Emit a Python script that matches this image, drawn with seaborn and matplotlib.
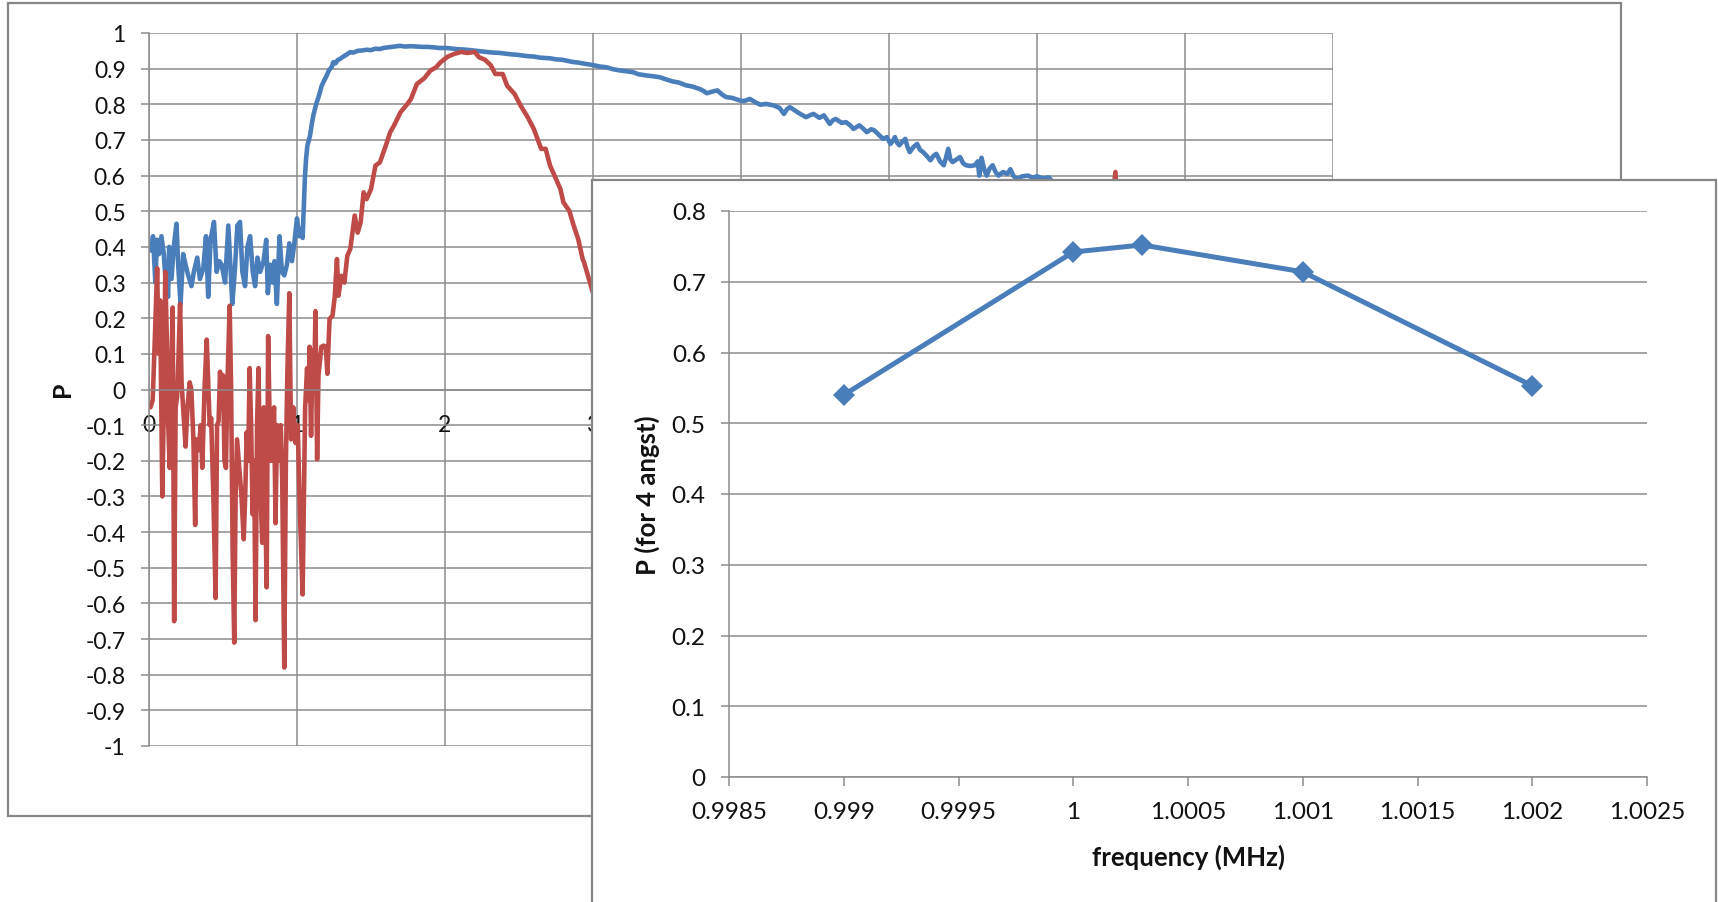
import matplotlib
matplotlib.use("Agg")
import matplotlib.pyplot as plt
import seaborn as sns
from matplotlib.patches import Rectangle
from matplotlib.ticker import FixedLocator, FuncFormatter

# ---------------------------------------------------------------- data
# Polarisation P versus wavelength-like scan (background chart)
blue_x = [
    0.016, 0.027, 0.043, 0.054, 0.068, 0.084, 0.100, 0.113, 0.129, 0.136,
    0.152, 0.167, 0.186, 0.197, 0.213, 0.231, 0.247, 0.265, 0.287, 0.303,
    0.326, 0.344, 0.367, 0.385, 0.400, 0.416, 0.439, 0.457, 0.475, 0.491,
    0.514, 0.536, 0.548, 0.563, 0.581, 0.597, 0.615, 0.631, 0.649, 0.665,
    0.683, 0.701, 0.717, 0.733, 0.751, 0.774, 0.792, 0.803, 0.819, 0.835,
    0.848, 0.864, 0.882, 0.898, 0.914, 0.932, 0.948, 0.966, 0.982, 1.000,
    1.015, 1.025, 1.038, 1.054, 1.062, 1.070, 1.080, 1.088, 1.100, 1.110,
    1.120, 1.133, 1.145, 1.155, 1.165, 1.178, 1.190, 1.200, 1.212, 1.223,
    1.235, 1.245, 1.260, 1.275, 1.290, 1.310, 1.330, 1.358, 1.380, 1.410,
    1.440, 1.470, 1.500, 1.530, 1.560, 1.583, 1.620, 1.660, 1.696, 1.730,
    1.770, 1.808, 1.850, 1.880, 1.920, 1.960, 2.000, 2.034, 2.070, 2.110,
    2.147, 2.190, 2.230, 2.260, 2.300, 2.330, 2.370, 2.410, 2.450, 2.486,
    2.520, 2.560, 2.600, 2.640, 2.680, 2.710, 2.750, 2.790, 2.826, 2.860,
    2.900, 2.940, 3.000, 3.045, 3.090, 3.130, 3.180, 3.220, 3.270, 3.310,
    3.360, 3.400, 3.450, 3.500, 3.540, 3.580, 3.630, 3.670, 3.720, 3.745,
    3.770, 3.800, 3.840, 3.870, 3.900, 3.940, 3.990, 4.020, 4.060, 4.100,
    4.130, 4.170, 4.220, 4.260, 4.290, 4.310, 4.330, 4.370, 4.400, 4.440,
    4.470, 4.490, 4.530, 4.560, 4.580, 4.600, 4.620, 4.640, 4.680, 4.710,
    4.740, 4.760, 4.800, 4.830, 4.850, 4.880, 4.900, 4.930, 4.960, 4.985,
    5.010, 5.030, 5.040, 5.055, 5.070, 5.090, 5.110, 5.125, 5.140, 5.165,
    5.190, 5.210, 5.230, 5.255, 5.280, 5.300, 5.320, 5.345, 5.370, 5.385,
    5.400, 5.415, 5.430, 5.455, 5.480, 5.500, 5.520, 5.550, 5.580, 5.600,
    5.610, 5.625, 5.645, 5.660, 5.680, 5.700, 5.720, 5.740, 5.770, 5.800,
    5.820, 5.840, 5.860, 5.900, 5.940, 5.970, 6.000, 6.040, 6.080, 6.120,
    6.300, 6.700, 7.100, 7.500, 8.000,
]
blue_y = [
    0.390, 0.430, 0.300, 0.420, 0.380, 0.430, 0.380, 0.300, 0.260, 0.400,
    0.310, 0.400, 0.465, 0.350, 0.240, 0.380, 0.350, 0.320, 0.290, 0.330,
    0.370, 0.310, 0.340, 0.430, 0.260, 0.420, 0.470, 0.330, 0.360, 0.350,
    0.300, 0.460, 0.360, 0.240, 0.340, 0.460, 0.470, 0.330, 0.290, 0.400,
    0.430, 0.330, 0.290, 0.370, 0.330, 0.360, 0.420, 0.270, 0.350, 0.300,
    0.360, 0.240, 0.430, 0.330, 0.320, 0.350, 0.410, 0.360, 0.410, 0.480,
    0.430, 0.450, 0.425, 0.600, 0.650, 0.684, 0.700, 0.712, 0.745, 0.768,
    0.785, 0.805, 0.820, 0.834, 0.850, 0.862, 0.872, 0.880, 0.892, 0.899,
    0.905, 0.918, 0.915, 0.924, 0.927, 0.933, 0.938, 0.946, 0.945, 0.950,
    0.951, 0.953, 0.952, 0.956, 0.955, 0.958, 0.960, 0.962, 0.964, 0.962,
    0.963, 0.962, 0.961, 0.961, 0.960, 0.958, 0.958, 0.957, 0.955, 0.954,
    0.953, 0.951, 0.949, 0.948, 0.946, 0.945, 0.944, 0.942, 0.940, 0.939,
    0.937, 0.935, 0.934, 0.931, 0.930, 0.929, 0.926, 0.925, 0.922, 0.919,
    0.917, 0.914, 0.910, 0.906, 0.904, 0.899, 0.895, 0.893, 0.890, 0.884,
    0.881, 0.879, 0.876, 0.869, 0.864, 0.861, 0.853, 0.850, 0.843, 0.838,
    0.831, 0.835, 0.839, 0.828, 0.820, 0.818, 0.811, 0.809, 0.815, 0.805,
    0.799, 0.801, 0.797, 0.790, 0.773, 0.786, 0.792, 0.781, 0.773, 0.764,
    0.770, 0.773, 0.762, 0.769, 0.757, 0.745, 0.755, 0.759, 0.748, 0.750,
    0.740, 0.731, 0.741, 0.730, 0.722, 0.730, 0.727, 0.715, 0.703, 0.708,
    0.689, 0.700, 0.708, 0.692, 0.685, 0.695, 0.703, 0.680, 0.666, 0.680,
    0.689, 0.672, 0.666, 0.655, 0.643, 0.655, 0.661, 0.640, 0.629, 0.650,
    0.675, 0.645, 0.638, 0.645, 0.652, 0.635, 0.629, 0.627, 0.629, 0.640,
    0.600, 0.650, 0.615, 0.600, 0.620, 0.629, 0.610, 0.600, 0.610, 0.605,
    0.618, 0.600, 0.590, 0.598, 0.600, 0.594, 0.598, 0.592, 0.595, 0.575,
    0.560, 0.510, 0.460, 0.410, 0.340,
]

red_x = [
    0.010, 0.025, 0.040, 0.055, 0.065, 0.075, 0.090, 0.100, 0.110, 0.120,
    0.130, 0.140, 0.150, 0.160, 0.170, 0.180, 0.190, 0.200, 0.210, 0.220,
    0.235, 0.247, 0.260, 0.275, 0.286, 0.300, 0.312, 0.320, 0.335, 0.350,
    0.360, 0.375, 0.390, 0.400, 0.410, 0.420, 0.435, 0.450, 0.460, 0.470,
    0.480, 0.490, 0.500, 0.510, 0.520, 0.530, 0.545, 0.555, 0.565, 0.576,
    0.585, 0.595, 0.610, 0.625, 0.640, 0.650, 0.660, 0.670, 0.680, 0.690,
    0.700, 0.710, 0.720, 0.730, 0.740, 0.750, 0.765, 0.775, 0.785, 0.795,
    0.805, 0.815, 0.825, 0.835, 0.845, 0.855, 0.865, 0.875, 0.890, 0.900,
    0.914, 0.925, 0.935, 0.948, 0.960, 0.975, 0.990, 1.005, 1.020, 1.038,
    1.055, 1.068, 1.078, 1.085, 1.095, 1.105, 1.115, 1.125, 1.136, 1.145,
    1.155, 1.165, 1.180, 1.195, 1.205, 1.220, 1.240, 1.255, 1.270, 1.280,
    1.300, 1.320, 1.340, 1.360, 1.390, 1.410, 1.430, 1.450, 1.470, 1.500,
    1.530, 1.560, 1.600, 1.630, 1.655, 1.700, 1.746, 1.770, 1.810, 1.860,
    1.900, 1.940, 1.970, 2.020, 2.060, 2.110, 2.150, 2.200, 2.230, 2.270,
    2.310, 2.340, 2.390, 2.420, 2.470, 2.510, 2.560, 2.600, 2.650, 2.680,
    2.710, 2.750, 2.780, 2.800, 2.840, 2.870, 2.900, 2.930, 2.940, 3.050,
    3.200, 3.500, 4.000, 4.800, 5.600, 6.300, 6.450, 6.530, 6.570, 6.800,
    7.400, 8.000,
]
red_y = [
    -0.050, -0.030, 0.150, 0.340, 0.100, 0.250, -0.300, -0.050, 0.330, 0.150,
    -0.100, -0.220, 0.050, 0.230, -0.650, -0.050, -0.020, 0.100, 0.240, 0.020,
    -0.080, -0.160, -0.050, 0.020, 0.000, -0.140, -0.380, -0.140, -0.170, -0.100,
    -0.220, 0.000, 0.140, 0.020, -0.100, -0.080, -0.300, -0.585, -0.100, -0.090,
    0.050, -0.050, 0.040, -0.200, -0.220, 0.020, 0.235, 0.000, -0.450, -0.710,
    -0.300, -0.140, -0.220, -0.300, -0.420, -0.300, -0.120, -0.200, 0.060, -0.100,
    -0.350, -0.200, -0.647, -0.100, 0.060, -0.250, -0.430, -0.050, -0.300, -0.555,
    0.150, -0.080, -0.200, -0.100, -0.050, -0.375, -0.100, -0.200, -0.100, -0.250,
    -0.780, -0.200, 0.050, 0.270, -0.140, -0.050, -0.150, -0.100, -0.350, -0.575,
    -0.050, 0.060, -0.030, 0.120, -0.130, 0.110, 0.000, 0.220, -0.196, 0.040,
    0.080, 0.120, 0.123, 0.120, 0.044, 0.198, 0.207, 0.260, 0.366, 0.263,
    0.319, 0.300, 0.375, 0.394, 0.488, 0.440, 0.469, 0.553, 0.534, 0.562,
    0.628, 0.637, 0.684, 0.722, 0.740, 0.778, 0.801, 0.815, 0.857, 0.873,
    0.894, 0.904, 0.918, 0.934, 0.941, 0.947, 0.944, 0.947, 0.932, 0.925,
    0.909, 0.885, 0.885, 0.852, 0.829, 0.797, 0.763, 0.731, 0.675, 0.675,
    0.628, 0.590, 0.562, 0.525, 0.501, 0.459, 0.422, 0.366, 0.356, 0.200,
    0.020, -0.250, -0.450, -0.400, -0.150, 0.150, 0.300, 0.610, 0.250, 0.050,
    -0.200, -0.300,
]

# P at 4 angstrom versus RF frequency (foreground chart)
freq_mhz = [0.999, 1.0, 1.0003, 1.001, 1.002]
p_4ang = [0.540, 0.742, 0.752, 0.714, 0.553]

back_xticks = [0, 1, 2, 3, 4, 5, 6, 7, 8]
back_yticks = [-1.0, -0.9, -0.8, -0.7, -0.6, -0.5, -0.4, -0.3, -0.2, -0.1,
               0.0, 0.1, 0.2, 0.3, 0.4, 0.5, 0.6, 0.7, 0.8, 0.9, 1.0]
front_xticks = [0.9985, 0.999, 0.9995, 1.0, 1.0005, 1.001, 1.0015, 1.002, 1.0025]
front_xlabels = ["0.9985", "0.999", "0.9995", "1", "1.0005", "1.001",
                 "1.0015", "1.002", "1.0025"]
front_yticks = [0.0, 0.1, 0.2, 0.3, 0.4, 0.5, 0.6, 0.7, 0.8]

# ---------------------------------------------------------------- style
sns.set_theme(style="white")
plt.rcParams["font.family"] = ["Lato", "DejaVu Sans"]

GRID = "#8c8c8c"
FRAME = "#868686"
BLUE = "#4A7EBB"
RED = "#BE4B48"
TXT = "#111111"

W, H = 1718, 903
fig = plt.figure(figsize=(W / 100, H / 100), dpi=100)
fig.patch.set_facecolor("white")


def px_box(x0, y0, x1, y1):
    """Pixel box (top-left origin) -> figure fraction rect."""
    return [x0 / W, 1 - y1 / H, (x1 - x0) / W, (y1 - y0) / H]


def num_label(v, _pos):
    v = round(v, 4)
    if v == 0:
        return "0"
    return f"{v:g}"


# ---------------------------------------------------------------- background chart
back_frame = Rectangle((8 / W, 1 - 817 / H), (1621 - 8) / W, (817 - 4) / H,
                       transform=fig.transFigure, facecolor="none",
                       edgecolor=FRAME, lw=1.6, zorder=0.5)
fig.add_artist(back_frame)

ax1 = fig.add_axes(px_box(149, 34, 1333, 747))
ax1.set_zorder(1)
ax1.set_facecolor("white")

line_kw = dict(estimator=None, sort=False)
sns.lineplot(x=blue_x, y=blue_y, ax=ax1, color=BLUE, **line_kw)
sns.lineplot(x=red_x, y=red_y, ax=ax1, color=RED, **line_kw)
for ln in ax1.get_lines():
    ln.set_linewidth(3.3)
    ln.set_solid_joinstyle("round")
    ln.set_solid_capstyle("round")

ax1.set_xlim(0, 8)
ax1.set_ylim(-1, 1)
ax1.xaxis.set_major_locator(FixedLocator(back_xticks))
ax1.yaxis.set_major_locator(FixedLocator(back_yticks))
ax1.xaxis.set_major_formatter(FuncFormatter(num_label))
ax1.yaxis.set_major_formatter(FuncFormatter(num_label))
ax1.grid(True, color=GRID, lw=1.1)
ax1.set_axisbelow(True)
for s in ("top", "right"):
    ax1.spines[s].set_visible(False)
ax1.spines["left"].set_color(GRID)
ax1.spines["left"].set_linewidth(1.1)
ax1.spines["bottom"].set_position(("data", 0))
ax1.spines["bottom"].set_color(GRID)
ax1.spines["bottom"].set_linewidth(1.1)
ax1.tick_params(axis="y", direction="out", length=5.8, width=1.1, color=GRID,
                pad=11, labelsize=16.5, labelcolor=TXT, left=True)
ax1.tick_params(axis="x", length=0, pad=18, labelsize=16.5, labelcolor=TXT,
                bottom=True)
ax1.set_xlabel("")
ax1.set_ylabel("P", fontsize=18, fontweight="bold", color=TXT, va="center")
ax1.yaxis.set_label_coords((62 - 149) / (1333 - 149), 0.502)

# ---------------------------------------------------------------- foreground chart
front_frame = Rectangle((592 / W, 1 - 960 / H), (1716 - 592) / W, (960 - 181) / H,
                        transform=fig.transFigure, facecolor="white",
                        edgecolor=FRAME, lw=1.6, zorder=5)
fig.add_artist(front_frame)

ax2 = fig.add_axes(px_box(729, 212, 1647, 778))
ax2.set_zorder(6)
ax2.patch.set_alpha(0)

sns.lineplot(x=freq_mhz, y=p_4ang, ax=ax2, color=BLUE, marker="D",
             markersize=11.5, markeredgewidth=0, estimator=None, sort=False)
for ln in ax2.get_lines():
    ln.set_linewidth(3.6)
    ln.set_solid_joinstyle("round")

ax2.set_xlim(0.9985, 1.0025)
ax2.set_ylim(0, 0.8)
ax2.set_xticks(front_xticks)
ax2.set_xticklabels(front_xlabels)
ax2.yaxis.set_major_locator(FixedLocator(front_yticks))
ax2.yaxis.set_major_formatter(FuncFormatter(num_label))
ax2.grid(True, axis="y", color=GRID, lw=1.1)
ax2.grid(False, axis="x")
ax2.set_axisbelow(True)
for s in ("top", "right"):
    ax2.spines[s].set_visible(False)
for s in ("left", "bottom"):
    ax2.spines[s].set_color(GRID)
    ax2.spines[s].set_linewidth(1.1)
ax2.tick_params(axis="x", direction="out", length=6.5, width=1.1, color=GRID,
                pad=11, labelsize=17.5, labelcolor=TXT, bottom=True)
ax2.tick_params(axis="y", direction="out", length=5.8, width=1.1, color=GRID,
                pad=11, labelsize=17.5, labelcolor=TXT, left=True)
ax2.set_xlabel("frequency (MHz)", fontsize=18.5, fontweight="bold", color=TXT,
               va="center")
ax2.set_ylabel("P (for 4 angst)", fontsize=18.5, fontweight="bold", color=TXT,
               va="center")
ax2.xaxis.set_label_coords((1188 - 729) / (1647 - 729), -(857 - 778) / (778 - 212))
ax2.yaxis.set_label_coords((647 - 729) / (1647 - 729), 0.5)

fig.savefig("out.png", dpi=100, facecolor="white")
